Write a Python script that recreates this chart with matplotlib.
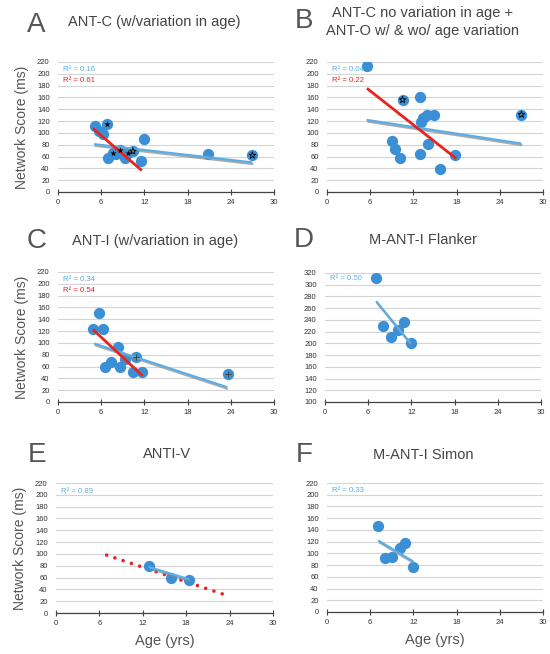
import numpy as np
import matplotlib.pyplot as plt
import matplotlib.patheffects as pe

plt.rcParams['font.family'] = ['Liberation Sans', 'DejaVu Sans']

BLUE = '#3b8fd5'
FIT_BLUE = '#5aaee6'
RED = '#e8231f'
GREY_TXT = '#555555'

# --- Panel A: ANT-C (w/variation in age) ---
a_age = [5.1, 5.7, 6.3, 6.8, 7.0, 7.6, 8.1, 8.6, 9.3, 9.7, 10.4, 11.5, 11.9, 20.9, 27.0]
a_score = [111, 104, 98, 115, 58, 66, 65, 71, 57, 66, 69, 53, 89, 64, 62]
a_star_age = [6.8, 7.6, 8.6, 9.7]
a_star_score = [115, 66, 71, 66]
a_open_age = [10.4, 27.0]
a_open_score = [69, 62]
a_blue_x, a_blue_y = [5.0, 27.0], [81, 50]
a_red_x, a_red_y = [5.0, 11.5], [106, 38]

# --- Panel B: ANT-C no variation + ANT-O ---
b_age = [5.5, 9.0, 9.5, 10.2, 10.5, 12.9, 12.9, 13.0, 13.3, 13.9, 14.0, 14.9, 15.7, 17.8, 27.0]
b_score = [214, 87, 72, 58, 156, 160, 65, 118, 125, 131, 81, 130, 39, 62, 131]
b_open_age = [10.5, 27.0]
b_open_score = [156, 131]
b_blue_x, b_blue_y = [5.5, 27.0], [122, 82]
b_red_x, b_red_y = [5.7, 17.8], [174, 58]

# --- Panel C: ANT-I (w/variation in age) ---
c_age = [4.9, 5.7, 6.2, 6.5, 7.4, 8.3, 8.6, 9.3, 10.4, 10.8, 11.6, 23.6]
c_score = [124, 150, 124, 60, 68, 93, 60, 72, 50, 77, 50, 48]
c_plus_age = [10.8, 23.6]
c_plus_score = [77, 48]
c_blue_x, c_blue_y = [5.0, 23.5], [99, 25]
c_red_x, c_red_y = [5.0, 11.6], [121, 46]

# --- Panel D: M-ANT-I Flanker ---
d_age = [7.1, 8.1, 9.1, 10.1, 11.0, 11.9]
d_score = [311, 229, 210, 223, 237, 201]
d_blue_x, d_blue_y = [7.1, 11.9], [272, 200]

# --- Panel E: ANTI-V ---
e_age = [12.8, 15.9, 18.4]
e_score = [80, 59, 56]
e_blue_x, e_blue_y = [12.8, 18.4], [78, 57]
e_trend_x, e_trend_y = [7.0, 23.8], [98, 29]

# --- Panel F: M-ANT-I Simon ---
f_age = [7.1, 8.0, 9.0, 10.1, 10.9, 12.0]
f_score = [146, 92, 93, 109, 117, 76]
f_blue_x, f_blue_y = [7.1, 12.0], [122, 86]

W, H = 550, 654
fig = plt.figure(figsize=(W / 100, H / 100), dpi=100)


def add_ax(left, top, right, bottom):
    return fig.add_axes([left / W, 1 - bottom / H, (right - left) / W, (bottom - top) / H])


def style(ax, ymin=0, ymax=220):
    ax.set_xlim(0, 30)
    ax.set_ylim(ymin, ymax)
    ax.set_xticks(np.arange(0, 31, 6))
    ax.set_yticks(np.arange(ymin, ymax + 1, 20))
    ax.grid(axis='y', color='#d4d4d4', lw=0.8)
    ax.set_axisbelow(True)
    for s in ['top', 'right', 'left']:
        ax.spines[s].set_visible(False)
    ax.spines['bottom'].set_color('#444444')
    ax.spines['bottom'].set_linewidth(0.9)
    ax.tick_params(axis='x', direction='inout', length=4, width=0.8, color='#444444',
                   labelsize=5.5, labelcolor='#333333', pad=3)
    ax.tick_params(axis='y', length=0, labelsize=5.5, labelcolor='#333333', pad=6)


def fit_line(ax, x, y, color=FIT_BLUE, lw=1.6):
    ax.plot(x, y, color=color, lw=lw, solid_capstyle='butt', zorder=4,
            path_effects=[pe.SimpleLineShadow(offset=(0.6, -1.2), shadow_color='#888888', alpha=0.7),
                          pe.Normal()])


def header(letter, lx, ly, title, tx, ty, spacing=1.15):
    fig.text(lx / W, 1 - ly / H, letter, fontsize=20, color=GREY_TXT, ha='center', va='center')
    fig.text(tx / W, 1 - ty / H, title, fontsize=10.5, color='#444444', ha='center', va='center',
             linespacing=spacing)


def r2(ax, y, txt, color):
    ax.text(0.7, y, txt, fontsize=5.6, color=color, va='center', ha='left')


# A
ax = add_ax(58, 62, 274, 192)
style(ax)
ax.scatter(a_age, a_score, s=66, color=BLUE, zorder=3, lw=0)
ax.scatter(a_star_age, a_star_score, s=22, marker='*', color='black', zorder=6, lw=0)
ax.scatter(a_open_age, a_open_score, s=26, marker='*', facecolor='none', edgecolor='black', zorder=6, lw=0.6)
fit_line(ax, a_blue_x, a_blue_y)
ax.plot(a_red_x, a_red_y, color=RED, lw=2, zorder=5)
r2(ax, 208, 'R² = 0.16', FIT_BLUE)
r2(ax, 189, 'R² = 0.61', RED)
ax.set_ylabel('Network Score (ms)', fontsize=10, color=GREY_TXT, labelpad=6)
header('A', 36, 25, 'ANT-C (w/variation in age)', 154, 22)

# B
ax = add_ax(327, 62, 543, 192)
style(ax)
ax.scatter(b_age, b_score, s=66, color=BLUE, zorder=3, lw=0)
ax.scatter(b_open_age, b_open_score, s=26, marker='*', facecolor='none', edgecolor='black', zorder=6, lw=0.6)
fit_line(ax, b_blue_x, b_blue_y)
ax.plot(b_red_x, b_red_y, color=RED, lw=2, zorder=5)
r2(ax, 208, 'R² = 0.04', FIT_BLUE)
r2(ax, 189, 'R² = 0.22', RED)
header('B', 304, 21, 'ANT-C no variation in age +\nANT-O w/ & wo/ age variation', 423, 22, spacing=1.3)

# C
ax = add_ax(58, 272, 274, 402)
style(ax)
ax.scatter(c_age, c_score, s=66, color=BLUE, zorder=3, lw=0)
ax.scatter(c_plus_age, c_plus_score, s=22, marker='+', color='#444444', zorder=6, lw=0.7)
fit_line(ax, c_blue_x, c_blue_y)
ax.plot(c_red_x, c_red_y, color=RED, lw=2, zorder=5)
r2(ax, 208, 'R² = 0.34', FIT_BLUE)
r2(ax, 188, 'R² = 0.54', RED)
ax.set_ylabel('Network Score (ms)', fontsize=10, color=GREY_TXT, labelpad=6)
header('C', 37, 241, 'ANT-I (w/variation in age)', 155, 241)

# D
ax = add_ax(325, 273, 541, 402)
style(ax, 100, 320)
ax.scatter(d_age, d_score, s=66, color=BLUE, zorder=3, lw=0)
fit_line(ax, d_blue_x, d_blue_y)
r2(ax, 311, 'R² = 0.50', FIT_BLUE)
header('D', 304, 240, 'M-ANT-I Flanker', 423, 240)

# E
ax = add_ax(56, 483, 273, 613)
style(ax)
ax.plot(e_trend_x, e_trend_y, color=RED, lw=2.6, dashes=(0.01, 2.4), dash_capstyle='round', zorder=2)
ax.scatter(e_age, e_score, s=66, color=BLUE, zorder=3, lw=0)
fit_line(ax, e_blue_x, e_blue_y)
r2(ax, 206, 'R² = 0.89', FIT_BLUE)
ax.set_ylabel('Network Score (ms)', fontsize=10, color=GREY_TXT, labelpad=6)
ax.set_xlabel('Age (yrs)', fontsize=10.5, color=GREY_TXT, labelpad=5)
header('E', 37, 455, 'ANTI-V', 167, 454)

# F
ax = add_ax(327, 483, 543, 612)
style(ax)
ax.scatter(f_age, f_score, s=66, color=BLUE, zorder=3, lw=0)
fit_line(ax, f_blue_x, f_blue_y)
r2(ax, 208, 'R² = 0.33', FIT_BLUE)
ax.set_xlabel('Age (yrs)', fontsize=10.5, color=GREY_TXT, labelpad=5)
header('F', 304, 455, 'M-ANT-I Simon', 423, 455)

fig.savefig('out.png', dpi=100, facecolor='white')
